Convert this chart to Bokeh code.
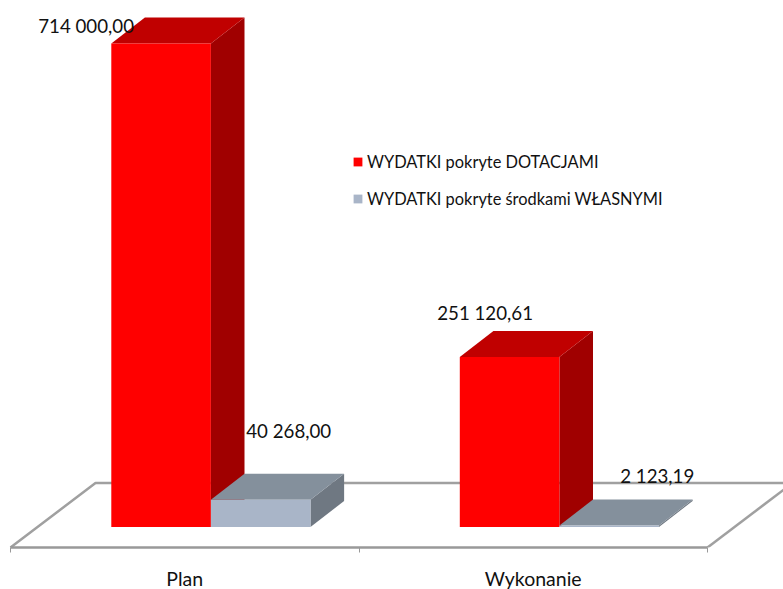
from bokeh.plotting import figure
from bokeh.embed import file_html
from bokeh.resources import INLINE
from bokeh.models import FixedTicker, Legend, LegendItem, ColumnDataSource
from bokeh.core.properties import value

categories = ["Plan", "Wykonanie"]
dotacje = [714000.00, 251120.61]
wlasne = [40268.00, 2123.19]
series_names = ["WYDATKI pokryte DOTACJAMI", "WYDATKI pokryte środkami WŁASNYMI"]

FONT = "Lato"
PX_X = 1 / 348.5            # category units per pixel
PX_Y = 714000 / 483.5       # value units per pixel
W, H = 783, 589
FRAME_H = 547
BAR_W = 99.6 * PX_X
BAR_LEFT = 100.8 * PX_X     # left edge of first bar in a category
DX, DY = 33.6 * PX_X, 26 * PX_Y
FDX, FDY = 85 * PX_X, 64.5 * PX_Y
FLOOR = -20.5 * PX_Y

x0 = -10 * PX_X
y0 = FLOOR
p = figure(width=W, height=H, frame_width=W, frame_height=FRAME_H,
           output_backend="svg", toolbar_location=None,
           x_range=(x0, x0 + W * PX_X), y_range=(y0, y0 + FRAME_H * PX_Y),
           min_border_left=0, min_border_right=0, min_border_top=0, min_border_bottom=0,
           outline_line_color=None, background_fill_color="white", border_fill_color=None)
p.grid.visible = False
p.yaxis.visible = False

ax = p.xaxis[0]
ax.ticker = FixedTicker(ticks=[0.5, 1.5], minor_ticks=[0, 1, 2])
ax.major_label_overrides = {0.5: categories[0], 1.5: categories[1]}
ax.bounds = (0, 2)
ax.axis_line_color = "#999999"
ax.axis_line_width = 2.5
ax.major_tick_line_color = None
ax.major_tick_in = 0
ax.major_tick_out = 0
ax.minor_tick_line_color = "#999999"
ax.minor_tick_in = 0
ax.minor_tick_out = 5
ax.major_label_standoff = 14
ax.major_label_text_font = FONT
ax.major_label_text_font_size = "19.5px"
ax.major_label_text_color = "#111111"

# floor
p.multi_line(
    xs=[[0, FDX, 2 + FDX], [2, 2 + FDX]],
    ys=[[FLOOR, FLOOR + FDY, FLOOR + FDY], [FLOOR, FLOOR + FDY]],
    line_color="#a0a0a0", line_width=2.5)


def bar(cx, v, front, top, side):
    xl, xr = cx, cx + BAR_W
    p.patch([xr, xr + DX, xr + DX, xr], [0, DY, v + DY, v], fill_color=side, line_color=None)
    p.patch([xl, xr, xr + DX, xl + DX], [v, v, v + DY, v + DY], fill_color=top, line_color=None)
    return p.patch([xl, xr, xr, xl], [0, 0, v, v], fill_color=front, line_color=None)


rs = []
for i in range(2):
    r1 = bar(i + BAR_LEFT, dotacje[i], "#ff0000", "#c00000", "#a00000")
    r2 = bar(i + BAR_LEFT + BAR_W, wlasne[i], "#a9b5c8", "#84909c", "#6f7882")
    rs.append((r1, r2))


def fmt(v):
    return f"{v:,.2f}".replace(",", " ").replace(".", ",")


vals = [dotacje[0], wlasne[0], dotacje[1], wlasne[1]]
cxs = [BAR_LEFT + BAR_W / 2, BAR_LEFT + BAR_W * 1.5, 1 + BAR_LEFT + BAR_W / 2, 1 + BAR_LEFT + BAR_W * 1.5]
src = ColumnDataSource(dict(
    x=cxs, y=vals, t=[fmt(v) for v in vals],
    xo=[-75, 28, -24.5, 48], yo=[-18, -69, -44, -49.5]))
p.text("x", "y", text="t", source=src, x_offset="xo", y_offset="yo", text_align="center",
       text_baseline="middle", text_font=value(FONT), text_font_size="18.7px", text_color="#111111")

legend = Legend(items=[LegendItem(label=series_names[0], renderers=[rs[0][0]]),
                       LegendItem(label=series_names[1], renderers=[rs[0][1]])],
                location=(352, 339), orientation="vertical", glyph_width=11, glyph_height=11,
                label_standoff=4, padding=0, margin=0, spacing=17, label_height=20,
                border_line_color=None, background_fill_alpha=0,
                label_text_font=FONT, label_text_font_size="16.4px", label_text_color="#111111")
p.add_layout(legend)

open("out.html", "w").write(file_html(p, INLINE))
